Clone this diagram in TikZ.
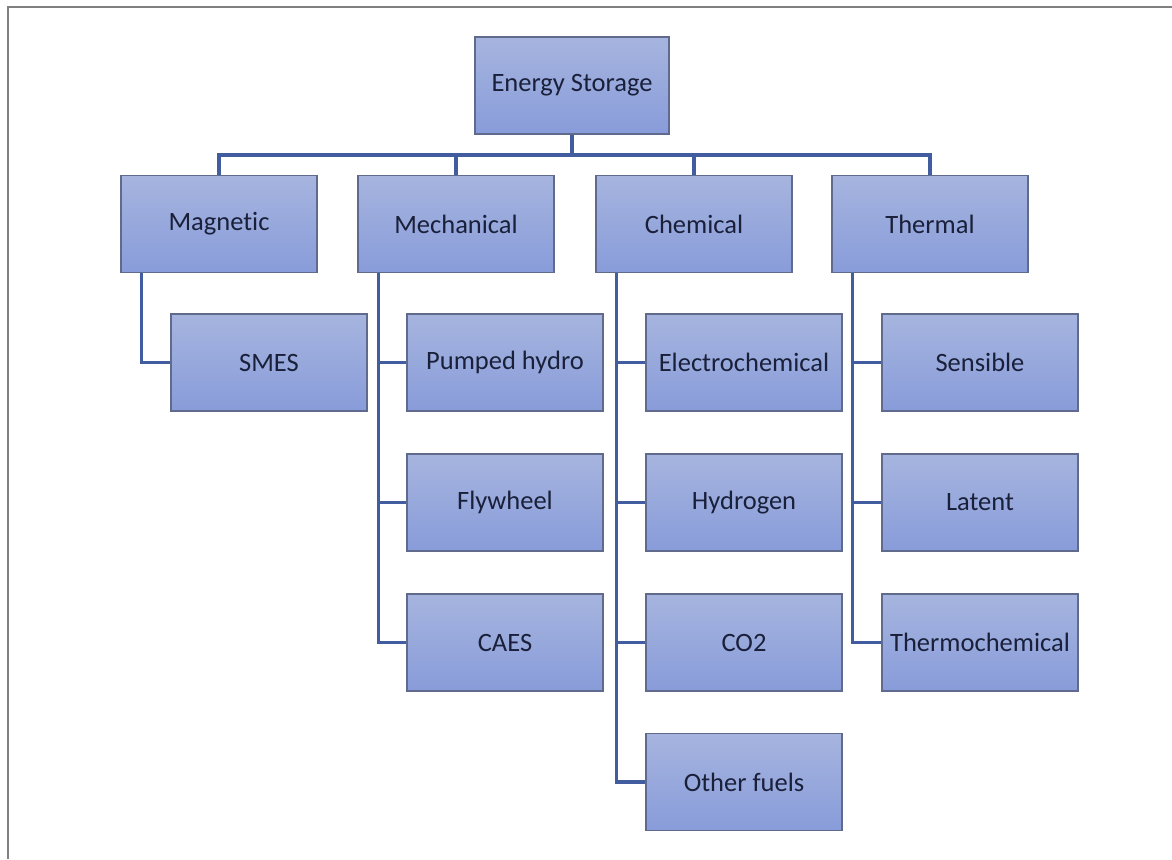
\documentclass[tikz,border=0pt]{standalone}
\usepackage{fontspec}
\setmainfont[Ligatures=NoCommon]{Carlito}
\definecolor{boxtop}{RGB}{166,180,222}
\definecolor{boxbot}{RGB}{136,156,218}
\definecolor{boxline}{RGB}{96,106,140}
\definecolor{connc}{RGB}{66,92,160}
\definecolor{txtc}{RGB}{26,32,58}
\definecolor{framec}{RGB}{128,128,128}
\tikzset{
  cbox/.style={draw=boxline, line width=1.3pt, top color=boxtop, bottom color=boxbot,
    minimum width=196pt, minimum height=97pt, inner sep=0pt, text=txtc,
    font=\fontsize{26.5}{30}\selectfont},
  conn/.style={draw=connc, line width=3.2pt},
  framel/.style={draw=framec, line width=2.2pt}
}
\begin{document}
\begin{tikzpicture}[x=1pt,y=-1pt]
\useasboundingbox (0,0) rectangle (1172,859);
\coordinate (fbl) at (8,859);
\coordinate (ftl) at (8,7);
\coordinate (ftr) at (1172,7);
\draw[framel] (fbl) -- (ftl) -- (ftr);

\node[cbox, minimum width=194pt] (es) at (572,85.5) {Energy Storage};

\node[cbox] (mag) at (219,224) {Magnetic};
\node[cbox] (mech) at (456,224) {Mechanical};
\node[cbox] (chem) at (694,224) {Chemical};
\node[cbox] (therm) at (930,224) {Thermal};

\node[cbox] (smes) at (269,362.5) {SMES};

\node[cbox] (ph) at (505,362.5) {Pumped hydro};
\node[cbox] (fly) at (505,502.5) {Flywheel};
\node[cbox] (caes) at (505,642.5) {CAES};

\node[cbox] (ec) at (744,362.5) {Electrochemical};
\node[cbox] (hyd) at (744,502.5) {Hydrogen};
\node[cbox] (co2) at (744,642.5) {CO2};
\node[cbox] (of) at (744,782) {Other fuels};

\node[cbox] (sens) at (980,362.5) {Sensible};
\node[cbox] (lat) at (980,502.5) {Latent};
\node[cbox] (tc) at (980,642.5) {Thermochemical};

\coordinate (bus) at (0,155);
\draw[conn] (es.south) -- (es.south |- bus) -| (mag.north);
\draw[conn] (es.south |- bus) -| (therm.north);
\draw[conn] (mech.north |- bus) -- (mech.north);
\draw[conn] (chem.north |- bus) -- (chem.north);

\coordinate (magd) at ([xshift=21pt]mag.south west);
\coordinate (mechd) at ([xshift=21pt]mech.south west);
\coordinate (chemd) at ([xshift=21pt]chem.south west);
\coordinate (thermd) at ([xshift=21pt]therm.south west);

\draw[conn] (magd) |- (smes.west);

\draw[conn] (mechd) |- (caes.west);
\draw[conn] (mechd |- ph.west) -- (ph.west);
\draw[conn] (mechd |- fly.west) -- (fly.west);

\draw[conn] (chemd) |- (of.west);
\draw[conn] (chemd |- ec.west) -- (ec.west);
\draw[conn] (chemd |- hyd.west) -- (hyd.west);
\draw[conn] (chemd |- co2.west) -- (co2.west);

\draw[conn] (thermd) |- (tc.west);
\draw[conn] (thermd |- sens.west) -- (sens.west);
\draw[conn] (thermd |- lat.west) -- (lat.west);
\end{tikzpicture}
\end{document}
